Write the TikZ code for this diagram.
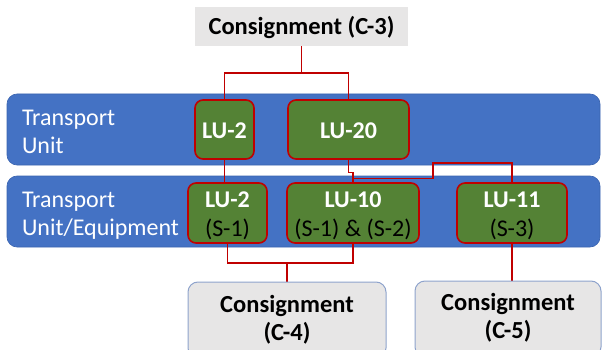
\documentclass[tikz,border=0pt]{standalone}
\usepackage{fontspec}
\setmainfont{Carlito}
\definecolor{bandblue}{HTML}{4472C4}
\definecolor{bandedge}{HTML}{3A64B0}
\definecolor{lugreen}{HTML}{548235}
\definecolor{lured}{HTML}{C00000}
\definecolor{cgray}{HTML}{E7E6E6}
\definecolor{cedge}{HTML}{8EA3CC}
\pgfdeclarelayer{back}
\pgfdeclarelayer{mid}
\pgfsetlayers{back,mid,main}
\begin{document}
\begin{tikzpicture}[x=1pt,y=-1pt,
  band/.style={rectangle, rounded corners=10pt, fill=bandblue, draw=bandedge, line width=0.6pt,
    minimum width=593pt, minimum height=71pt, inner xsep=15pt, inner ysep=0pt, text width=563pt,
    align=left, text=white, font=\fontsize{24}{28.5}\selectfont, text height=20pt, text depth=29pt},
  lubox/.style={rectangle, rounded corners=8pt, fill=lugreen, draw=lured, line width=1.6pt,
    inner sep=0pt, align=center, font=\fontsize{24}{29}\selectfont},
  lutop/.style={lubox, text=white, minimum height=59pt, text height=20pt, text depth=1pt},
  lubot/.style={lubox, text=black, minimum height=60pt, text height=50pt, text depth=4pt},
  cbox/.style={rectangle, rounded corners=10pt, fill=cgray, draw=cedge, line width=1pt,
    inner sep=0pt, align=center, font=\bfseries\fontsize{24.5}{28}\selectfont,
    minimum height=76pt, text depth=6pt},
  ctop/.style={rectangle, fill=cgray, inner sep=0pt, font=\bfseries\fontsize{24.5}{28}\selectfont,
    minimum width=213pt, minimum height=39pt, text height=20pt, text depth=3pt},
  conn/.style={draw=lured, line width=1.2pt},
]
\useasboundingbox (0,0) rectangle (602,350);
\clip (0,0) rectangle (602,350);

% bands
\begin{pgfonlayer}{back}
\node[band] (band1) at (303.5,129.5) {Transport\\Unit};
\node[band] (band2) at (303.5,211.5) {Transport\\Unit/Equipment};
\end{pgfonlayer}

% consignments
\node[ctop] (c3) at (301.5,26.5) {Consignment (C-3)};
\node[cbox, minimum width=198pt, text height=46pt] (c4) at (287,320) {Consignment\\(C-4)};
\node[cbox, minimum width=186pt, text height=44pt] (c5) at (508,319) {Consignment\\(C-5)};

% transport units
\node[lutop, minimum width=59pt] (lu2a) at (224.5,129.5) {\textbf{LU-2}};
\node[lutop, minimum width=121pt] (lu20) at (348.5,129.5) {\textbf{LU-20}};
\node[lubot, minimum width=79pt] (lu2b) at (227.5,213) {{\color{white}\bfseries LU-2}\\(S-1)};
\node[lubot, minimum width=132pt] (lu10) at (353,213) {{\color{white}\bfseries LU-10}\\(S-1) \& (S-2)};
\node[lubot, minimum width=110pt] (lu11) at (512,213) {{\color{white}\bfseries LU-11}\\(S-3)};

% connectors
\begin{pgfonlayer}{mid}
\coordinate (j1) at (301.5,73);
\coordinate (k1) at (433,163);
\coordinate (j2) at (287,263);
\draw[conn] (c3.south) -- (j1);
\draw[conn] (lu2a.north) |- (j1) -| (lu20.north);
\draw[conn] (lu2a.south) -- (lu2a.south |- lu2b.north);
\draw[conn] (lu20.south) -- ++(0,13) -| (lu10.north);
\draw[conn] (lu10.north) ++(0,-4) -| (k1) -| (lu11.north);
\draw[conn] (lu2b.south) |- (j2) -| (lu10.south);
\draw[conn] (j2) -- (c4.north);
\draw[conn] (lu11.south) -- (lu11.south |- c5.north);
\end{pgfonlayer}
\end{tikzpicture}
\end{document}
